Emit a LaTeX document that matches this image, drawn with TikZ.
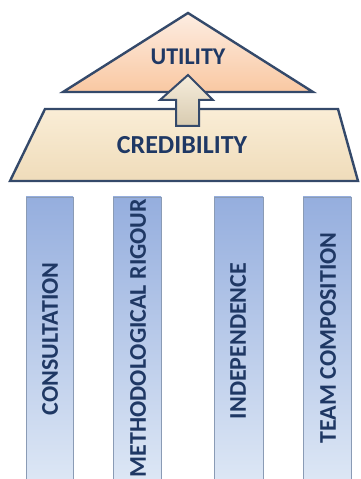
\documentclass[tikz,border=0pt]{standalone}
\usepackage{fontspec}
\setmainfont{Carlito}
\usetikzlibrary{positioning}

\definecolor{edge}{HTML}{34496A}
\definecolor{ink}{HTML}{1F3864}
\definecolor{pilltop}{HTML}{95AEDE}
\definecolor{pillbot}{HTML}{DDE7F5}
\definecolor{pillline}{HTML}{8A9BB5}
\definecolor{rooftop}{HTML}{FDEDE2}
\definecolor{roofmid}{HTML}{F4A060}
\definecolor{roofbot}{HTML}{F9C8A2}
\definecolor{slabtop}{HTML}{FAEDD6}
\definecolor{slabbot}{HTML}{EFDCBA}
\definecolor{lifttop}{HTML}{F6EDDC}
\definecolor{liftbot}{HTML}{D8CBB0}

\begin{document}
\begin{tikzpicture}[x=1pt,y=1pt]

\tikzset{
  outl/.style  = {draw=edge, line width=2.4pt, line join=miter},
  roof/.style  = {outl, top color=rooftop, middle color=roofmid, bottom color=roofbot},
  slab/.style  = {outl, top color=slabtop, bottom color=slabbot},
  lift/.style  = {outl, line width=2pt, top color=lifttop, bottom color=liftbot},
  pill/.style  = {draw=pillline, line width=0.6pt, top color=pilltop, bottom color=pillbot},
  ttl/.style   = {font=\bfseries\fontsize{24}{28}\selectfont, text=ink, inner sep=0pt},
  vtl/.style   = {ttl, rotate=90},
}

\useasboundingbox (0,0) rectangle (360,479);
\clip (0,0) rectangle (360,479);

% roof and slab
\path[roof] (188,466) -- (313,387) -- (63,387) -- cycle;
\path[slab] (45,370) -- (338,370) -- (358,298) -- (10,298) -- cycle;
% arrow from slab up into roof
\path[lift] (188,404) -- (213,379) -- (199,379) -- (199,353) -- (176,353) -- (176,379) -- (160,379) -- cycle;

\node[ttl] (util) at (188,422) {UTILITY};
\node[ttl, font=\bfseries\fontsize{26}{30}\selectfont] (cred) at (182,334) {CREDIBILITY};

% pillars
\path[pill] (26,-3) rectangle (73,282);
\path[pill] (113,-3) rectangle (161,282);
\path[pill] (214,-3) rectangle (263,282);
\path[pill] (303,-3) rectangle (351,282);

\node[vtl] (cons) at (50,140) {CONSULTATION};
\node[vtl] (meth) at (138,141) {METHODOLOGICAL RIGOUR};
\node[vtl] (inde) at (238,138) {INDEPENDENCE};
\node[vtl] (team) at (328,141) {TEAM COMPOSITION};
\end{tikzpicture}
\end{document}
